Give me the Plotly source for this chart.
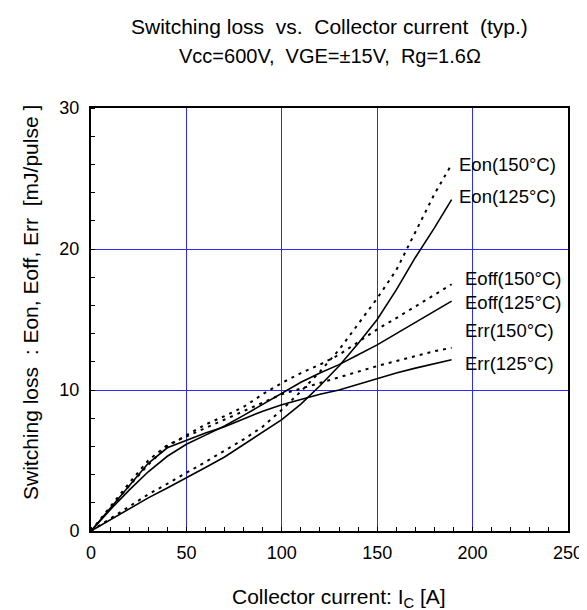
import plotly.graph_objects as go

# Collector current [A]
ic = [0, 10, 20, 30, 40, 50, 60, 70, 80, 90, 100, 110, 120, 130, 140, 150, 160, 170, 180, 189]

eon_150 = [0, 0.85, 1.7, 2.6, 3.35, 4.1, 4.9, 5.7, 6.5, 7.4, 8.6, 9.9, 11.3, 12.85, 14.65, 16.5, 18.5, 21.2, 23.9, 26.0]
eon_125 = [0, 0.8, 1.6, 2.35, 3.05, 3.75, 4.5, 5.25, 6.15, 7.0, 7.9, 9.0, 10.3, 11.7, 13.3, 15.0, 17.1, 19.4, 21.5, 23.5]
eoff_150 = [0, 1.6, 3.2, 4.7, 6.0, 6.8, 7.55, 8.15, 8.8, 9.7, 10.5, 11.2, 11.8, 12.5, 13.4, 14.3, 15.1, 15.9, 16.75, 17.5]
eoff_125 = [0, 1.5, 2.9, 4.2, 5.3, 6.15, 6.8, 7.45, 8.2, 9.0, 9.8, 10.55, 11.2, 11.8, 12.5, 13.2, 14.0, 14.8, 15.6, 16.3]
err_150 = [0, 1.7, 3.4, 5.0, 6.1, 6.7, 7.3, 7.9, 8.5, 9.1, 9.7, 10.1, 10.5, 10.95, 11.3, 11.7, 12.05, 12.4, 12.75, 13.0]
err_125 = [0, 1.6, 3.2, 4.8, 5.9, 6.45, 6.95, 7.4, 7.95, 8.5, 8.96, 9.35, 9.7, 10.0, 10.4, 10.85, 11.2, 11.55, 11.85, 12.15]

labels = ["Eon(150°C)", "Eon(125°C)", "Eoff(150°C)", "Eoff(125°C)", "Err(150°C)", "Err(125°C)"]
label_y = [26.0, 23.7, 17.9, 16.2, 14.2, 11.9]
label_x = [192, 192, 195, 195, 195, 195]

x_ticks = [0, 50, 100, 150, 200, 250]
y_ticks = [0, 10, 20, 30]

series = [eon_150, eon_125, eoff_150, eoff_125, err_150, err_125]
dashed = [True, False, True, False, True, False]

FONT = "Liberation Sans, Arial, sans-serif"
NB = "\u00a0"
fig = go.Figure()
for ys, d in zip(series, dashed):
    fig.add_trace(go.Scatter(
        x=ic, y=ys, mode="lines",
        line=dict(color="black", width=2 if d else 1.6, dash="3px,5px" if d else "solid"),
        showlegend=False, hoverinfo="skip"))

for t, xx, yy in zip(labels, label_x, label_y):
    fig.add_annotation(x=xx, y=yy, text=t, xref="x", yref="y", showarrow=False,
                       xanchor="left", yanchor="middle",
                       font=dict(family=FONT, size=18.5, color="black"))

fig.update_layout(
    width=587, height=610,
    margin=dict(l=83, r=17, t=100, b=87),
    paper_bgcolor="white", plot_bgcolor="white",
    font=dict(family=FONT, size=18, color="black"),
    xaxis=dict(range=[0, 250], tickvals=x_ticks, ticks="",
               showgrid=True, gridcolor="#2a2aff", gridwidth=1,
               showline=True, linecolor="black", linewidth=2, mirror=True,
               zeroline=False, ticklabelstandoff=4,
               minor=dict(dtick=10, ticks="inside", ticklen=4, tickcolor="black", showgrid=False)),
    yaxis=dict(range=[0, 30], tickvals=y_ticks, ticks="",
               showgrid=True, gridcolor="#2a2aff", gridwidth=1,
               showline=True, linecolor="black", linewidth=2, mirror=True,
               zeroline=False, ticklabelstandoff=6,
               minor=dict(dtick=2, ticks="inside", ticklen=4, tickcolor="black", showgrid=False)),
)

# titles
fig.add_annotation(text=f"Switching loss{NB}{NB}vs.{NB}{NB}Collector current{NB}{NB}(typ.)",
                   xref="paper", yref="paper", x=0.5, y=1, yanchor="middle", yshift=82,
                   showarrow=False, font=dict(family=FONT, size=21, color="black"))
fig.add_annotation(text=f"Vcc=600V,{NB}{NB}VGE=±15V,{NB}{NB}Rg=1.6Ω",
                   xref="paper", yref="paper", x=0.5, y=1, yanchor="middle", yshift=52,
                   showarrow=False, font=dict(family=FONT, size=20, color="black"))
# axis titles
fig.add_annotation(text="Collector current: I<sub>C</sub> [A]",
                   xref="paper", yref="paper", x=0.52, y=0, yanchor="middle", yshift=-67,
                   showarrow=False, font=dict(family=FONT, size=21, color="black"))
fig.add_annotation(text=f"Switching loss{NB}{NB}: Eon, Eoff, Err{NB}{NB}[mJ/pulse ]",
                   xref="paper", yref="paper", x=0, y=0.539, xanchor="center", yanchor="middle",
                   xshift=-61, textangle=-90,
                   showarrow=False, font=dict(family=FONT, size=21, color="black"))

fig.write_html("out.html")
